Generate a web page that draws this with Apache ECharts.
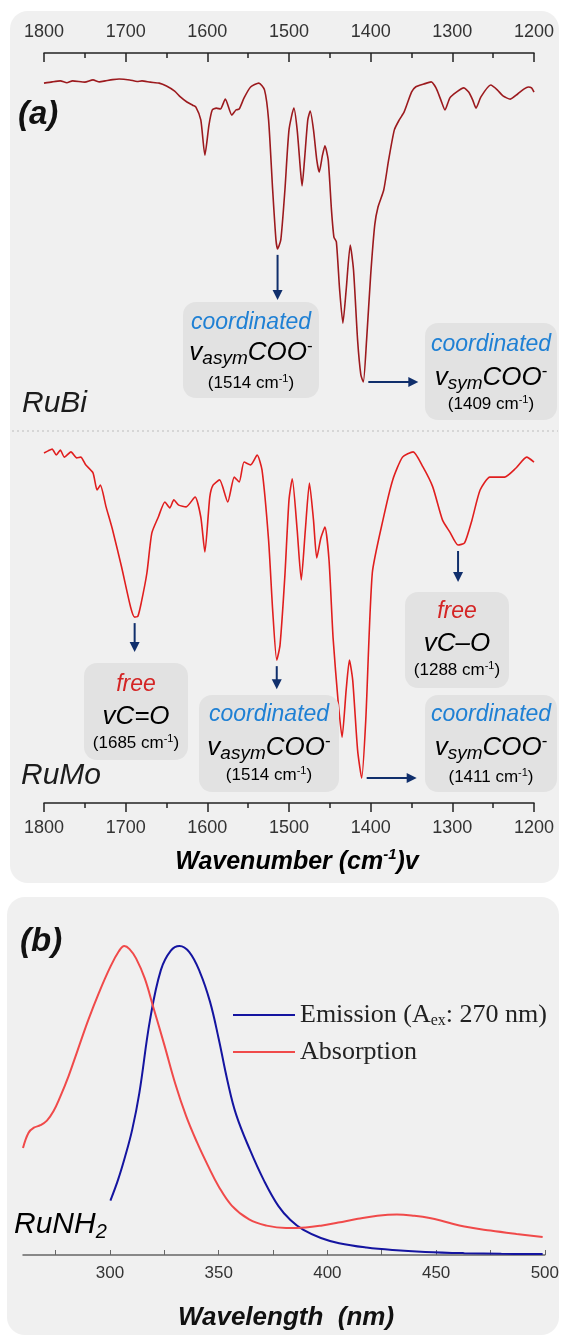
<!DOCTYPE html>
<html>
<head>
<meta charset="utf-8">
<script src="https://cdn.jsdelivr.net/npm/echarts@6.0.0/dist/echarts.min.js"></script>
<style>
html, body { margin: 0; padding: 0; background: #fff; }
#chart { width: 562px; height: 1337px; }
</style>
</head>
<body>
<div id="chart"></div>
<script>
// (a) IR spectra, [wavenumber (cm-1), relative transmittance]
var rubiIR = [
  [1800, 95.9], [1790, 96.3], [1780, 96.6], [1772, 96.0], [1765, 96.6], [1750, 96.2], [1740, 96.9],
  [1732, 96.3], [1725, 96.6], [1716, 97.0], [1708, 97.2], [1695, 96.9], [1686, 96.4], [1680, 96.6],
  [1670, 96.2], [1659, 95.9], [1650, 95.0], [1640, 93.4], [1633, 91.6], [1625, 90.0], [1618, 89.0],
  [1614, 88.4], [1608, 84.4], [1603, 73.4], [1598, 82.8], [1594, 87.5], [1589, 88.1], [1584, 87.8],
  [1578, 90.9], [1570, 85.9], [1565, 87.5], [1561, 87.8], [1555, 91.3], [1547, 94.7], [1537, 95.9],
  [1530, 93.8], [1525, 84.4], [1520, 62.5], [1516, 47.0], [1514, 44.1], [1510, 47.0], [1505, 62.5],
  [1500, 81.3], [1494, 88.1], [1490, 81.3], [1486, 68.8], [1484, 63.8], [1481, 71.9], [1477, 84.4],
  [1474, 87.2], [1470, 81.3], [1466, 71.9], [1463, 68.1], [1459, 73.4], [1456, 76.3], [1452, 71.9],
  [1448, 56.3], [1445, 47.8], [1442, 46.3], [1438, 31.3], [1434, 20.9], [1430, 31.3], [1425, 45.3],
  [1421, 37.5], [1416, 15.6], [1412, 4.7], [1409, 2.5], [1405, 15.6], [1400, 35.9], [1395, 51.6],
  [1391, 57.2], [1384, 62.5], [1378, 71.9], [1371, 81.3], [1365, 84.4], [1359, 86.9], [1350, 93.1],
  [1345, 94.7], [1335, 95.6], [1326, 96.3], [1320, 94.4], [1314, 90.6], [1309, 87.5], [1303, 91.3],
  [1295, 93.1], [1286, 94.4], [1280, 93.1], [1275, 90.6], [1271, 88.1], [1265, 91.6], [1253, 95.3],
  [1245, 93.8], [1238, 91.9], [1229, 90.9], [1220, 92.5], [1212, 94.1], [1207, 94.7], [1203, 94.4],
  [1200, 93.1]
];
var rumoIR = [
  [1800, 96.3], [1795, 96.9], [1790, 97.4], [1785, 95.7], [1780, 97.1], [1775, 95.1], [1767, 96.6],
  [1760, 94.9], [1755, 95.1], [1749, 92.9], [1740, 90.6], [1735, 85.7], [1731, 87.1], [1724, 80.9],
  [1716, 74.3], [1705, 63.7], [1694, 52.3], [1689, 49.4], [1685, 49.7], [1681, 53.4], [1674, 62.0],
  [1668, 73.4], [1660, 78.0], [1652, 82.3], [1646, 80.6], [1641, 82.9], [1635, 81.4], [1626, 80.9],
  [1615, 83.7], [1608, 78.0], [1603, 68.0], [1597, 83.7], [1593, 87.1], [1585, 88.6], [1575, 82.3],
  [1567, 89.4], [1561, 88.0], [1555, 93.7], [1547, 92.9], [1539, 95.7], [1533, 91.4], [1525, 71.4],
  [1520, 51.4], [1515, 37.1], [1511, 41.4], [1505, 61.4], [1500, 82.9], [1496, 88.9], [1490, 74.3],
  [1485, 60.0], [1480, 74.3], [1475, 87.7], [1470, 77.1], [1466, 66.3], [1461, 72.0], [1456, 75.1],
  [1451, 65.7], [1446, 43.4], [1440, 25.7], [1435, 15.1], [1430, 28.6], [1426, 37.1], [1422, 31.4],
  [1416, 11.4], [1411, 3.4], [1406, 20.0], [1398, 62.0], [1385, 77.1], [1373, 88.6], [1361, 95.1],
  [1348, 96.6], [1336, 92.3], [1324, 86.6], [1312, 77.1], [1303, 73.7], [1293, 70.0], [1285, 70.6],
  [1276, 77.1], [1266, 85.7], [1254, 89.4], [1242, 89.4], [1236, 89.4], [1222, 92.0], [1209, 95.1],
  [1200, 93.7]
];

// (b) normalised spectra, [wavelength (nm), intensity]
var absorption = [
  [260, 0.346], [262.5, 0.395], [265, 0.412], [268, 0.42], [271, 0.435], [274, 0.465], [277, 0.51],
  [281, 0.58], [285, 0.66], [290, 0.76], [295, 0.85], [300, 0.93], [304, 0.982], [306.6, 1.0],
  [309, 0.99], [312, 0.96], [316, 0.895], [320, 0.80], [325, 0.68], [330, 0.555], [335, 0.45],
  [340, 0.365], [345, 0.29], [350, 0.222], [356, 0.16], [364, 0.115], [372, 0.095], [381, 0.087],
  [390, 0.089], [397, 0.095], [405, 0.105], [414, 0.117], [423, 0.127], [432, 0.131], [440, 0.127],
  [447, 0.12], [455, 0.106], [463, 0.092], [475, 0.079], [487, 0.068], [499, 0.058]
];
var emission = [
  [300.2, 0.176], [303.7, 0.243], [306.9, 0.317], [310.2, 0.405], [313.5, 0.524], [318.4, 0.76],
  [323.4, 0.922], [328, 0.985], [332, 1.0], [336.5, 0.98], [341.4, 0.915], [346, 0.82], [350, 0.70],
  [354, 0.565], [358, 0.455], [364.4, 0.34], [370.9, 0.24], [377.5, 0.158], [383, 0.113], [389, 0.081],
  [397, 0.055], [405.4, 0.038], [418, 0.024], [430, 0.016], [445, 0.01], [463, 0.006], [480, 0.004],
  [499, 0.003]
];

var uvLabelValues = [300, 350, 400, 450, 500];
var uvTickValues = [275, 300, 325, 350, 375, 400, 425, 450, 475, 500];

var SANS = 'Liberation Sans, Arial, sans-serif';
var SERIF = 'Liberation Serif, Times New Roman, serif';
var BLUE = '#1f80d4';
var RED = '#d42424';
var NAVY = '#102f6c';
var INK = '#1c1c1c';

// peak annotations (grid 0 = RuBi, grid 1 = RuMo)
var annotations = [
  { g: 0, at: 1514, dir: 'down', len: 45, box: [183, 302, 136, 96], head: 'coordinated', headColor: BLUE, main: '{v|v}{sub|asym}{v|COO}{sup|-}', cm: '1514', ty: [323, 353, 383] },
  { g: 0, at: 1409, dir: 'right', len: 50, box: [425, 323, 132, 97], head: 'coordinated', headColor: BLUE, main: '{v|v}{sub|sym}{v|COO}{sup|-}', cm: '1409', ty: [345, 378, 404] },
  { g: 1, at: 1689, dir: 'down', len: 29, box: [84, 663, 104, 97], head: 'free', headColor: RED, main: '{v|vC=O}', cm: '1685', ty: [685, 717, 743] },
  { g: 1, at: 1515, dir: 'down', len: 23, box: [199, 695, 140, 97], head: 'coordinated', headColor: BLUE, main: '{v|v}{sub|asym}{v|COO}{sup|-}', cm: '1514', ty: [715, 748, 775] },
  { g: 1, at: 1293, dir: 'down', len: 31, box: [405, 592, 104, 96], head: 'free', headColor: RED, main: '{v|vC\u2013O}', cm: '1288', ty: [612, 644, 670] },
  { g: 1, at: 1411, dir: 'right', len: 50, box: [425, 695, 132, 97], head: 'coordinated', headColor: BLUE, main: '{v|v}{sub|sym}{v|COO}{sup|-}', cm: '1411', ty: [715, 748, 777] }
];

var chart = echarts.init(document.getElementById('chart'));

function plain(v) { return String(v); }

function irAxis(gridIndex, pos, offset, inside, margin) {
  return {
    type: 'value', gridIndex: gridIndex, position: pos, offset: offset,
    min: 1200, max: 1800, interval: 100, inverse: true,
    axisLine: { onZero: false, lineStyle: { color: '#222', width: 1.5 } },
    axisTick: { inside: inside, length: 9, lineStyle: { color: '#222', width: 1.5 } },
    minorTick: { show: true, splitNumber: 2, length: 5, lineStyle: { color: '#222', width: 1.5 } },
    axisLabel: { margin: margin, fontFamily: SANS, fontSize: 18, color: '#333', formatter: plain },
    splitLine: { show: false }
  };
}
function hiddenY(gridIndex, max) {
  return { type: 'value', gridIndex: gridIndex, min: 0, max: max, show: false, splitLine: { show: false } };
}

var option = {
  animation: false,
  backgroundColor: '#ffffff',
  grid: [
    { left: 44, width: 490, top: 70, height: 320 },
    { left: 44, width: 490, top: 440, height: 350 },
    { left: 23, width: 524, top: 946, height: 309 }
  ],
  xAxis: [
    irAxis(0, 'top', 17, true, 12),
    irAxis(1, 'bottom', 13, false, 16),
    {
      type: 'value', gridIndex: 2, min: 260, max: 500,
      axisLine: { onZero: false, lineStyle: { color: '#666', width: 1.5 } },
      axisTick: { inside: true, length: 5, customValues: uvTickValues, lineStyle: { color: '#666', width: 1 } },
      axisLabel: { customValues: uvLabelValues, margin: 10, fontFamily: SANS, fontSize: 17, color: '#333', formatter: plain },
      splitLine: { show: false }
    }
  ],
  yAxis: [hiddenY(0, 100), hiddenY(1, 100), hiddenY(2, 1)],
  legend: {
    orient: 'vertical', left: 228, top: 997, itemWidth: 62, itemHeight: 2, itemGap: 10, icon: 'rect',
    selectedMode: false,
    data: ['Emission', 'Absorption'],
    formatter: function (name) {
      return name === 'Emission' ? '{t|Emission (A}{s|ex}{t|: 270 nm)}' : '{t|Absorption}';
    },
    textStyle: {
      fontFamily: SERIF, fontSize: 26, color: '#222',
      rich: {
        t: { fontFamily: SERIF, fontSize: 26, color: '#222', lineHeight: 28 },
        s: { fontFamily: SERIF, fontSize: 16, color: '#222', lineHeight: 10, verticalAlign: 'bottom' }
      }
    }
  },
  series: [
    { name: 'RuBi', type: 'line', xAxisIndex: 0, yAxisIndex: 0, data: rubiIR, showSymbol: false, symbol: 'none',
      smooth: 0.2, lineStyle: { color: '#9c1a1e', width: 1.6 }, itemStyle: { color: '#9c1a1e' }, z: 3 },
    { name: 'RuMo', type: 'line', xAxisIndex: 1, yAxisIndex: 1, data: rumoIR, showSymbol: false, symbol: 'none',
      smooth: 0.2, lineStyle: { color: '#e01e1e', width: 1.6 }, itemStyle: { color: '#e01e1e' }, z: 3 },
    { name: 'Emission', type: 'line', xAxisIndex: 2, yAxisIndex: 2, data: emission, showSymbol: false, symbol: 'none',
      smooth: 0.4, lineStyle: { color: '#1414a0', width: 2 }, itemStyle: { color: '#1414a0' }, z: 3 },
    { name: 'Absorption', type: 'line', xAxisIndex: 2, yAxisIndex: 2, data: absorption, showSymbol: false, symbol: 'none',
      smooth: 0.4, lineStyle: { color: '#f04a4a', width: 2 }, itemStyle: { color: '#f04a4a' }, z: 3 }
  ]
};
chart.setOption(option);

var noteRich = {
  v: { fontFamily: SANS, fontSize: 26, fontStyle: 'italic', color: INK, lineHeight: 30 },
  sub: { fontFamily: SANS, fontSize: 19, fontStyle: 'italic', color: INK, lineHeight: 12, verticalAlign: 'bottom' },
  sup: { fontFamily: SANS, fontSize: 17, color: INK, lineHeight: 12, verticalAlign: 'top' },
  c: { fontFamily: SANS, fontSize: 17, color: '#333', lineHeight: 20 },
  cs: { fontFamily: SANS, fontSize: 11, color: '#333', lineHeight: 8, verticalAlign: 'top' }
};

function peakOf(series, at) {
  var best = null;
  series.forEach(function (p) {
    if (Math.abs(p[0] - at) <= 6 && (!best || p[1] < best[1])) best = p;
  });
  return best;
}

var els = [
  { type: 'rect', z: 0, shape: { x: 10, y: 11, width: 549, height: 872, r: 18 }, style: { fill: '#f0f0f0' } },
  { type: 'rect', z: 0, shape: { x: 7, y: 897, width: 552, height: 438, r: 18 }, style: { fill: '#f0f0f0' } },
  { type: 'line', z: 1, shape: { x1: 12, y1: 431, x2: 558, y2: 431 }, style: { stroke: '#d6d6d6', lineWidth: 2, lineDash: [2, 3] } },
  { type: 'text', z: 5, x: 18, y: 115, style: { text: '(a)', fontFamily: SANS, fontSize: 33, fontWeight: 'bold', fontStyle: 'italic', fill: '#111', verticalAlign: 'middle' } },
  { type: 'text', z: 5, x: 20, y: 942, style: { text: '(b)', fontFamily: SANS, fontSize: 33, fontWeight: 'bold', fontStyle: 'italic', fill: '#111', verticalAlign: 'middle' } },
  { type: 'text', z: 5, x: 22, y: 404, style: { text: 'RuBi', fontFamily: SANS, fontSize: 30, fontStyle: 'italic', fill: INK, verticalAlign: 'middle' } },
  { type: 'text', z: 5, x: 21, y: 776, style: { text: 'RuMo', fontFamily: SANS, fontSize: 30, fontStyle: 'italic', fill: INK, verticalAlign: 'middle' } },
  { type: 'text', z: 5, x: 14, y: 1225, style: {
      text: '{m|RuNH}{s|2}', verticalAlign: 'middle',
      rich: { m: { fontFamily: SANS, fontSize: 30, fontStyle: 'italic', color: INK, lineHeight: 34 },
              s: { fontFamily: SANS, fontSize: 20, fontStyle: 'italic', color: INK, lineHeight: 12, verticalAlign: 'bottom' } } } },
  { type: 'text', z: 5, x: 297, y: 862, style: {
      text: '{t|Wavenumber (cm}{s|-1}{t|)v}', align: 'center', verticalAlign: 'middle',
      rich: { t: { fontFamily: SANS, fontSize: 25, fontWeight: 'bold', fontStyle: 'italic', color: '#111', lineHeight: 30 },
              s: { fontFamily: SANS, fontSize: 15, fontWeight: 'bold', fontStyle: 'italic', color: '#111', lineHeight: 12, verticalAlign: 'top' } } } },
  { type: 'text', z: 5, x: 286, y: 1318, style: { text: 'Wavelength  (nm)', align: 'center', verticalAlign: 'middle',
      fontFamily: SANS, fontSize: 26, fontWeight: 'bold', fontStyle: 'italic', fill: '#111' } }
];

annotations.forEach(function (a) {
  var data = a.g === 0 ? rubiIR : rumoIR;
  var p = peakOf(data, a.at);
  var px = chart.convertToPixel({ gridIndex: a.g }, p);
  var b = a.box;
  els.push({ type: 'rect', z: 4, shape: { x: b[0], y: b[1], width: b[2], height: b[3], r: 13 }, style: { fill: '#e2e2e2' } });
  var cx = b[0] + b[2] / 2;
  els.push({ type: 'text', z: 6, x: cx, y: a.ty[0], style: { text: a.head, align: 'center', verticalAlign: 'middle',
    fontFamily: SANS, fontSize: 23, fontStyle: 'italic', fill: a.headColor } });
  els.push({ type: 'text', z: 6, x: cx, y: a.ty[1], style: { text: a.main, align: 'center', verticalAlign: 'middle', rich: noteRich } });
  els.push({ type: 'text', z: 6, x: cx, y: a.ty[2], style: { text: '{c|(' + a.cm + ' cm}{cs|-1}{c|)}', align: 'center', verticalAlign: 'middle', rich: noteRich } });
  var x1, y1, x2, y2, head;
  if (a.dir === 'down') {
    x1 = px[0]; y1 = px[1] + 6; x2 = x1; y2 = y1 + a.len;
    head = [[x2 - 5, y2 - 10], [x2 + 5, y2 - 10], [x2, y2]];
    y2 -= 8;
  } else {
    x1 = px[0] + 5; y1 = px[1]; x2 = x1 + a.len; y2 = y1;
    head = [[x2 - 10, y2 - 5], [x2 - 10, y2 + 5], [x2, y2]];
    x2 -= 8;
  }
  els.push({ type: 'line', z: 6, shape: { x1: x1, y1: y1, x2: x2, y2: y2 }, style: { stroke: NAVY, lineWidth: 2 } });
  els.push({ type: 'polygon', z: 6, shape: { points: head }, style: { fill: NAVY } });
});

chart.setOption({ graphic: { elements: els } });
</script>
</body>
</html>
